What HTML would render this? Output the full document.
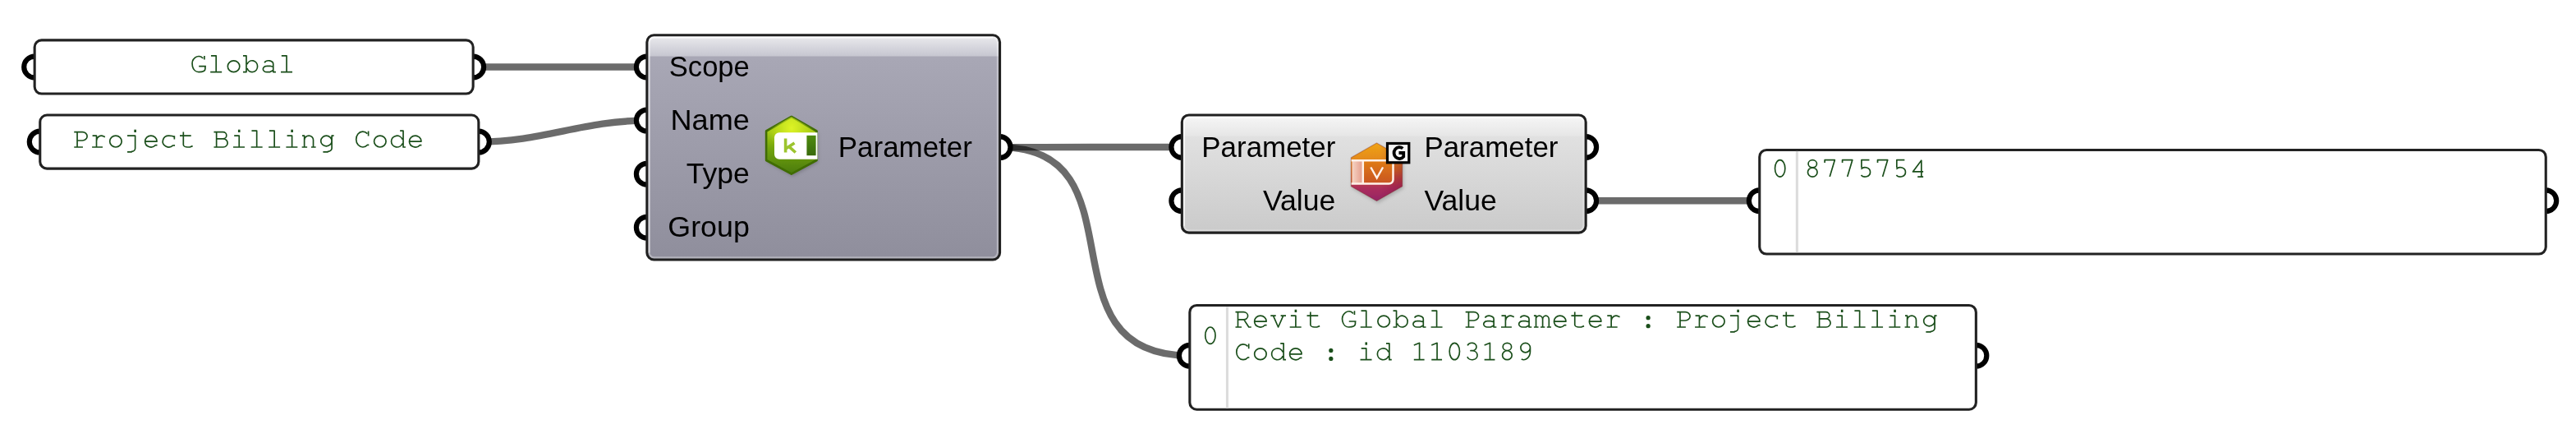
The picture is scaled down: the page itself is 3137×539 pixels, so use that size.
<!DOCTYPE html>
<html><head><meta charset="utf-8"><style>html,body{margin:0;padding:0;background:#fff;width:3137px;height:539px;overflow:hidden}svg{display:block;will-change:transform}</style></head>
<body><svg width="3137" height="539" viewBox="0 0 3137 539"><defs>
<linearGradient id="c1b" x1="0" y1="0" x2="0" y2="1"><stop offset="0" stop-color="#abaab8"/><stop offset="1" stop-color="#8f8e9c"/></linearGradient>
<linearGradient id="c1t" x1="0" y1="0" x2="0" y2="1"><stop offset="0.1" stop-color="#f6f6f8"/><stop offset="0.2" stop-color="#e6e6ea"/><stop offset="1" stop-color="#c6c6d0"/></linearGradient>
<linearGradient id="c2b" x1="0" y1="0" x2="0" y2="1"><stop offset="0" stop-color="#e6e6e6"/><stop offset="1" stop-color="#cacaca"/></linearGradient>
<linearGradient id="c2t" x1="0" y1="0" x2="0" y2="1"><stop offset="0.1" stop-color="#fcfcfc"/><stop offset="0.2" stop-color="#f4f4f4"/><stop offset="1" stop-color="#e6e6e6"/></linearGradient>
<linearGradient id="hexg" x1="0" y1="0" x2="0" y2="1"><stop offset="0" stop-color="#d4ec20"/><stop offset="0.5" stop-color="#8cbc10"/><stop offset="1" stop-color="#5c8c10"/></linearGradient>
<linearGradient id="hexo" x1="0" y1="0" x2="0" y2="1"><stop offset="0" stop-color="#f0a818"/><stop offset="0.45" stop-color="#d86828"/><stop offset="1" stop-color="#a02860"/></linearGradient>
</defs>
<path d="M576.2,81.5 C682.0,81.5 682.0,81.5 787.8,81.5" fill="none" stroke="rgba(0,0,0,0.58)" stroke-width="8.4"/>
<path d="M582.9,172.6 C660.9,172.6 709.8,146.6 787.8,146.6" fill="none" stroke="rgba(0,0,0,0.58)" stroke-width="8.4"/>
<path d="M1217.6,179.1 C1328.4499999999998,179.1 1328.4499999999998,179.0 1439.3,179.0" fill="none" stroke="rgba(0,0,0,0.58)" stroke-width="8.4"/>
<path d="M1217.6,179.1 C1397.6,179.1 1260.8,432.8 1448.8,432.8" fill="none" stroke="rgba(0,0,0,0.58)" stroke-width="8.4"/>
<path d="M1931.2,244.2 C2036.9499999999998,244.2 2036.9499999999998,244.2 2142.7,244.2" fill="none" stroke="rgba(0,0,0,0.58)" stroke-width="8.4"/>
<path d="M42.1,68.6 A12.9,12.9 0 0 0 42.1,94.4 Z" fill="#fff" stroke="none"/><path d="M42.1,68.6 A12.9,12.9 0 0 0 42.1,94.4" fill="none" stroke="#000" stroke-width="6.2"/>
<path d="M576.2,68.6 A12.9,12.9 0 0 1 576.2,94.4 Z" fill="#fff" stroke="none"/><path d="M576.2,68.6 A12.9,12.9 0 0 1 576.2,94.4" fill="none" stroke="#000" stroke-width="6.2"/>
<rect x="42.15" y="48.849999999999994" width="534.0" height="65.2" rx="8.45" fill="#fff" stroke="#222" stroke-width="3.1"/>
<path d="M48.7,159.7 A12.9,12.9 0 0 0 48.7,185.5 Z" fill="#fff" stroke="none"/><path d="M48.7,159.7 A12.9,12.9 0 0 0 48.7,185.5" fill="none" stroke="#000" stroke-width="6.2"/>
<path d="M582.9,159.7 A12.9,12.9 0 0 1 582.9,185.5 Z" fill="#fff" stroke="none"/><path d="M582.9,159.7 A12.9,12.9 0 0 1 582.9,185.5" fill="none" stroke="#000" stroke-width="6.2"/>
<rect x="48.75" y="140.05" width="534.0999999999999" height="65.1" rx="8.45" fill="#fff" stroke="#222" stroke-width="3.1"/>
<path d="M2142.7,231.29999999999998 A12.9,12.9 0 0 0 2142.7,257.09999999999997 Z" fill="#fff" stroke="none"/><path d="M2142.7,231.29999999999998 A12.9,12.9 0 0 0 2142.7,257.09999999999997" fill="none" stroke="#000" stroke-width="6.2"/>
<path d="M3100.3,231.29999999999998 A12.9,12.9 0 0 1 3100.3,257.09999999999997 Z" fill="#fff" stroke="none"/><path d="M3100.3,231.29999999999998 A12.9,12.9 0 0 1 3100.3,257.09999999999997" fill="none" stroke="#000" stroke-width="6.2"/>
<rect x="2142.75" y="182.45000000000002" width="957.5000000000003" height="126.60000000000002" rx="8.45" fill="#fff" stroke="#222" stroke-width="3.1"/>
<path d="M1448.8,419.90000000000003 A12.9,12.9 0 0 0 1448.8,445.7 Z" fill="#fff" stroke="none"/><path d="M1448.8,419.90000000000003 A12.9,12.9 0 0 0 1448.8,445.7" fill="none" stroke="#000" stroke-width="6.2"/>
<path d="M2406.4,419.90000000000003 A12.9,12.9 0 0 1 2406.4,445.7 Z" fill="#fff" stroke="none"/><path d="M2406.4,419.90000000000003 A12.9,12.9 0 0 1 2406.4,445.7" fill="none" stroke="#000" stroke-width="6.2"/>
<rect x="1448.85" y="371.45" width="957.5000000000001" height="126.80000000000004" rx="8.45" fill="#fff" stroke="#222" stroke-width="3.1"/>
<path d="M787.8,68.6 A12.9,12.9 0 0 0 787.8,94.4 Z" fill="#fff" stroke="none"/><path d="M787.8,68.6 A12.9,12.9 0 0 0 787.8,94.4" fill="none" stroke="#000" stroke-width="6.2"/>
<path d="M787.8,133.7 A12.9,12.9 0 0 0 787.8,159.5 Z" fill="#fff" stroke="none"/><path d="M787.8,133.7 A12.9,12.9 0 0 0 787.8,159.5" fill="none" stroke="#000" stroke-width="6.2"/>
<path d="M787.8,198.79999999999998 A12.9,12.9 0 0 0 787.8,224.6 Z" fill="#fff" stroke="none"/><path d="M787.8,198.79999999999998 A12.9,12.9 0 0 0 787.8,224.6" fill="none" stroke="#000" stroke-width="6.2"/>
<path d="M787.8,263.90000000000003 A12.9,12.9 0 0 0 787.8,289.7 Z" fill="#fff" stroke="none"/><path d="M787.8,263.90000000000003 A12.9,12.9 0 0 0 787.8,289.7" fill="none" stroke="#000" stroke-width="6.2"/>
<path d="M1217.6,166.2 A12.9,12.9 0 0 1 1217.6,192.0 Z" fill="#fff" stroke="none"/><path d="M1217.6,166.2 A12.9,12.9 0 0 1 1217.6,192.0" fill="none" stroke="#000" stroke-width="6.2"/>
<clipPath id="clip786"><rect x="787.8" y="42.7" width="429.79999999999995" height="273.3" rx="8.5"/></clipPath><g clip-path="url(#clip786)"><rect x="786.3" y="41.2" width="432.79999999999995" height="276.3" fill="url(#c1b)"/><rect x="786.3" y="41.2" width="432.79999999999995" height="27.3" fill="url(#c1t)"/><rect x="790.3" y="45.2" width="424.79999999999995" height="268.3" rx="6.5" fill="none" stroke="rgba(255,255,255,0.32)" stroke-width="2.6"/><path d="M790.3,307.5 V51.7 A6.5,6.5 0 0 1 796.8,45.2" fill="none" stroke="rgba(255,255,255,0.55)" stroke-width="2.4"/><path d="M796.3,45.5 H1209.1" fill="none" stroke="rgba(255,255,255,0.75)" stroke-width="2"/></g><rect x="787.8499999999999" y="42.75" width="429.69999999999993" height="273.2" rx="8.45" fill="none" stroke="#202020" stroke-width="3.1"/>
<path d="M1439.3,166.1 A12.9,12.9 0 0 0 1439.3,191.9 Z" fill="#fff" stroke="none"/><path d="M1439.3,166.1 A12.9,12.9 0 0 0 1439.3,191.9" fill="none" stroke="#000" stroke-width="6.2"/>
<path d="M1931.2,166.1 A12.9,12.9 0 0 1 1931.2,191.9 Z" fill="#fff" stroke="none"/><path d="M1931.2,166.1 A12.9,12.9 0 0 1 1931.2,191.9" fill="none" stroke="#000" stroke-width="6.2"/>
<path d="M1439.3,231.29999999999998 A12.9,12.9 0 0 0 1439.3,257.09999999999997 Z" fill="#fff" stroke="none"/><path d="M1439.3,231.29999999999998 A12.9,12.9 0 0 0 1439.3,257.09999999999997" fill="none" stroke="#000" stroke-width="6.2"/>
<path d="M1931.2,231.29999999999998 A12.9,12.9 0 0 1 1931.2,257.09999999999997 Z" fill="#fff" stroke="none"/><path d="M1931.2,231.29999999999998 A12.9,12.9 0 0 1 1931.2,257.09999999999997" fill="none" stroke="#000" stroke-width="6.2"/>
<clipPath id="clip1437"><rect x="1439.3" y="139.9" width="491.9000000000001" height="143.29999999999998" rx="8.5"/></clipPath><g clip-path="url(#clip1437)"><rect x="1437.8" y="138.4" width="494.9000000000001" height="146.29999999999998" fill="url(#c2b)"/><rect x="1437.8" y="138.4" width="494.9000000000001" height="27.3" fill="url(#c2t)"/><rect x="1441.8" y="142.4" width="486.9000000000001" height="138.29999999999998" rx="6.5" fill="none" stroke="rgba(255,255,255,0.32)" stroke-width="2.6"/><path d="M1441.8,274.7 V148.9 A6.5,6.5 0 0 1 1448.3,142.4" fill="none" stroke="rgba(255,255,255,0.55)" stroke-width="2.4"/><path d="M1447.8,142.70000000000002 H1922.7" fill="none" stroke="rgba(255,255,255,0.75)" stroke-width="2"/></g><rect x="1439.35" y="139.95000000000002" width="491.80000000000007" height="143.2" rx="8.45" fill="none" stroke="#202020" stroke-width="3.1"/>
<text x="912.8" y="92.7" style="font-family:'Liberation Sans',sans-serif;font-size:35px;fill:#000" text-anchor="end"  textLength="98.0" lengthAdjust="spacingAndGlyphs">Scope</text>
<text x="912.8" y="157.79999999999998" style="font-family:'Liberation Sans',sans-serif;font-size:35px;fill:#000" text-anchor="end"  textLength="96.3" lengthAdjust="spacingAndGlyphs">Name</text>
<text x="912.8" y="222.89999999999998" style="font-family:'Liberation Sans',sans-serif;font-size:35px;fill:#000" text-anchor="end"  textLength="77.0" lengthAdjust="spacingAndGlyphs">Type</text>
<text x="912.8" y="288.0" style="font-family:'Liberation Sans',sans-serif;font-size:35px;fill:#000" text-anchor="end"  textLength="99.5" lengthAdjust="spacingAndGlyphs">Group</text>
<text x="1020.8" y="190.79999999999998" style="font-family:'Liberation Sans',sans-serif;font-size:35px;fill:#000" text-anchor="start"  textLength="163.1" lengthAdjust="spacingAndGlyphs">Parameter</text>
<text x="1626.4" y="190.5" style="font-family:'Liberation Sans',sans-serif;font-size:35px;fill:#000" text-anchor="end"  textLength="163.1" lengthAdjust="spacingAndGlyphs">Parameter</text>
<text x="1626.4" y="255.79999999999998" style="font-family:'Liberation Sans',sans-serif;font-size:35px;fill:#000" text-anchor="end"  textLength="88.5" lengthAdjust="spacingAndGlyphs">Value</text>
<text x="1734.4" y="190.5" style="font-family:'Liberation Sans',sans-serif;font-size:35px;fill:#000" text-anchor="start"  textLength="163.1" lengthAdjust="spacingAndGlyphs">Parameter</text>
<text x="1734.4" y="255.79999999999998" style="font-family:'Liberation Sans',sans-serif;font-size:35px;fill:#000" text-anchor="start"  textLength="88.5" lengthAdjust="spacingAndGlyphs">Value</text>
<g fill="none" stroke="#1a4e1a" stroke-width="1.68" stroke-linejoin="round"><path transform="translate(231.00,88.50)" d="M17.90,-20.60 L17.90,-16.00 M16.29,-17.55 C13.67,-20.40 9.80,-20.81 6.81,-18.55 C3.82,-16.29 2.43,-11.91 3.41,-7.82 C4.38,-3.72 7.48,-0.90 11.00,-0.90 C15.4,-0.9 18.9,-1.9 18.9,-4.8 L18.9,-7.9 M11.20,-7.90 L19.90,-7.90"/><path transform="translate(252.46,88.50)" d="M4.50,-20.70 L10.73,-20.70 L10.73,-0.90 M3.70,-0.90 L17.70,-0.90"/><path transform="translate(273.92,88.50)" d="M17.90,-7.80 C17.90,-3.99 14.65,-0.90 10.65,-0.90 C6.65,-0.90 3.40,-3.99 3.40,-7.80 C3.40,-11.61 6.65,-14.70 10.65,-14.70 C14.65,-14.70 17.90,-11.61 17.90,-7.80"/><path transform="translate(295.38,88.50)" d="M0.60,-20.70 L4.60,-20.70 L4.60,-0.90 L0.60,-0.90 M5.59,-10.16 C6.67,-13.31 9.72,-15.18 12.83,-14.60 C15.93,-14.01 18.20,-11.15 18.20,-7.80 C18.20,-4.45 15.94,-1.59 12.83,-1.00 C9.72,-0.42 6.67,-2.29 5.59,-5.44"/><path transform="translate(316.84,88.50)" d="M5.22,-12.27 C6.33,-14.06 8.95,-15.03 11.51,-14.60 C14.08,-14.17 15.90,-12.47 15.90,-10.50 M15.90,-10.50 L15.90,-0.90 L19.10,-0.90 M15.90,-7.30 L12.00,-8.20 L8.00,-8.20 L8.10,-8.20 C5.56,-8.20 3.50,-6.57 3.50,-4.55 C3.50,-2.53 5.56,-0.90 8.10,-0.90 L8.10,-0.90 L12.00,-0.90 L15.90,-3.00"/><path transform="translate(338.30,88.50)" d="M4.50,-20.70 L10.73,-20.70 L10.73,-0.90 M3.70,-0.90 L17.70,-0.90"/></g>
<g fill="none" stroke="#1a4e1a" stroke-width="1.68" stroke-linejoin="round"><path transform="translate(87.35,179.90)" d="M2.90,-19.20 L13.00,-19.20 L13.00,-19.20 C16.20,-19.20 18.80,-16.89 18.80,-14.05 C18.80,-11.21 16.20,-8.90 13.00,-8.90 L13.00,-8.90 L6.70,-8.90 M6.70,-19.20 L6.70,-0.90 M2.90,-0.90 L13.60,-0.90"/><path transform="translate(108.81,179.90)" d="M3.80,-14.70 L8.70,-14.70 L8.70,-0.90 M3.30,-0.90 L16.20,-0.90 M8.70,-8.40 C8.70,-10.65 9.82,-12.73 11.65,-13.86 C13.48,-14.98 15.72,-14.98 17.55,-13.86 L17.60,-13.85 L19.10,-13.30"/><path transform="translate(130.27,179.90)" d="M17.90,-7.80 C17.90,-3.99 14.65,-0.90 10.65,-0.90 C6.65,-0.90 3.40,-3.99 3.40,-7.80 C3.40,-11.61 6.65,-14.70 10.65,-14.70 C14.65,-14.70 17.90,-11.61 17.90,-7.80"/><path transform="translate(151.73,179.90)" d="M3.30,-14.70 L12.90,-14.70 L12.90,0.50 L12.90,0.50 C12.90,2.65 10.97,4.40 8.60,4.40 L8.60,4.90 L3.30,4.90"/><path transform="translate(151.73,179.90)" d="M12.90,-22.20 V-18.90" stroke-width="2.6"/><path transform="translate(173.19,179.90)" d="M3.40,-7.80 L17.90,-7.80 L17.90,-7.80 C17.90,-11.61 14.65,-14.70 10.65,-14.70 C6.65,-14.70 3.40,-11.61 3.40,-7.80 L3.40,-7.80 C3.40,-4.90 5.31,-2.31 8.17,-1.32 C11.03,-0.32 14.24,-1.14 16.20,-3.36 L18.3,-3.3"/><path transform="translate(194.65,179.90)" d="M17.70,-14.60 L17.70,-10.40 M17.7,-13.2 C16.3,-14.3 13.6,-14.7 10.9,-14.7 L10.90,-14.70 C7.60,-14.70 4.70,-12.60 3.85,-9.59 C2.99,-6.57 4.39,-3.39 7.25,-1.82 C10.11,-0.26 13.73,-0.71 16.06,-2.92 L18.4,-3.0"/><path transform="translate(216.11,179.90)" d="M7.20,-19.30 L7.20,-4.00 L7.20,-4.00 C7.20,-2.29 9.44,-0.90 12.20,-0.90 L12.20,-0.90 L15.00,-0.90 L18.50,-2.30 M2.90,-14.70 L16.60,-14.70"/><path transform="translate(259.03,179.90)" d="M1.40,-19.20 L12.50,-19.20 L12.50,-19.20 C14.87,-19.20 16.80,-17.39 16.80,-15.15 C16.80,-12.91 14.87,-11.10 12.50,-11.10 L12.50,-11.10 L4.60,-11.10 M12.90,-11.10 L12.90,-11.10 C15.77,-11.10 18.10,-8.82 18.10,-6.00 C18.10,-3.18 15.77,-0.90 12.90,-0.90 L12.90,-0.90 L1.40,-0.90 M4.60,-19.20 L4.60,-0.90"/><path transform="translate(280.49,179.90)" d="M4.70,-14.70 L10.73,-14.70 L10.73,-0.90 M3.50,-0.90 L17.50,-0.90"/><path transform="translate(280.49,179.90)" d="M10.73,-22.20 V-18.90" stroke-width="2.6"/><path transform="translate(301.95,179.90)" d="M4.50,-20.70 L10.73,-20.70 L10.73,-0.90 M3.70,-0.90 L17.70,-0.90"/><path transform="translate(323.41,179.90)" d="M4.50,-20.70 L10.73,-20.70 L10.73,-0.90 M3.70,-0.90 L17.70,-0.90"/><path transform="translate(344.87,179.90)" d="M4.70,-14.70 L10.73,-14.70 L10.73,-0.90 M3.50,-0.90 L17.50,-0.90"/><path transform="translate(344.87,179.90)" d="M10.73,-22.20 V-18.90" stroke-width="2.6"/><path transform="translate(366.33,179.90)" d="M1.70,-14.70 L4.30,-14.70 L4.30,-0.90 M4.40,-9.60 C4.40,-12.42 6.82,-14.70 9.80,-14.70 C12.78,-14.70 15.20,-12.42 15.20,-9.60 L15.20,-9.60 L15.20,-0.90 M1.30,-0.90 L7.80,-0.90 M12.60,-0.90 L18.30,-0.90"/><path transform="translate(387.79,179.90)" d="M16.30,-8.40 C16.30,-4.92 13.30,-2.10 9.60,-2.10 C5.90,-2.10 2.90,-4.92 2.90,-8.40 C2.90,-11.88 5.90,-14.70 9.60,-14.70 C13.30,-14.70 16.30,-11.88 16.30,-8.40 M18.80,-14.70 L16.30,-14.70 L16.30,0.60 L16.30,0.60 C16.30,2.70 14.15,4.40 11.50,4.40 L11.50,4.90 L5.60,4.90"/><path transform="translate(430.71,179.90)" d="M17.90,-20.40 L17.90,-14.30 M16.62,-17.26 C13.38,-20.79 8.30,-20.62 5.24,-16.87 C2.18,-13.13 2.27,-7.21 5.44,-3.59 C8.61,0.03 13.69,-0.01 16.83,-3.67 L18.6,-3.6"/><path transform="translate(452.17,179.90)" d="M17.90,-7.80 C17.90,-3.99 14.65,-0.90 10.65,-0.90 C6.65,-0.90 3.40,-3.99 3.40,-7.80 C3.40,-11.61 6.65,-14.70 10.65,-14.70 C14.65,-14.70 17.90,-11.61 17.90,-7.80"/><path transform="translate(473.63,179.90)" d="M13.50,-20.70 L17.40,-20.70 L17.40,-0.90 L20.30,-0.90 M16.48,-10.16 C15.32,-13.31 12.03,-15.18 8.68,-14.60 C5.34,-14.01 2.90,-11.15 2.90,-7.80 C2.90,-4.45 5.34,-1.59 8.68,-1.00 C12.03,-0.42 15.32,-2.29 16.48,-5.44"/><path transform="translate(495.09,179.90)" d="M3.40,-7.80 L17.90,-7.80 L17.90,-7.80 C17.90,-11.61 14.65,-14.70 10.65,-14.70 C6.65,-14.70 3.40,-11.61 3.40,-7.80 L3.40,-7.80 C3.40,-4.90 5.31,-2.31 8.17,-1.32 C11.03,-0.32 14.24,-1.14 16.20,-3.36 L18.3,-3.3"/></g>
<g fill="none" stroke="#1a4e1a" stroke-width="1.68" stroke-linejoin="round"><path transform="translate(2156.67,216.00)" d="M17.15,-11.10 C17.15,-5.47 14.40,-0.90 11.00,-0.90 C7.60,-0.90 4.85,-5.47 4.85,-11.10 C4.85,-16.73 7.60,-21.30 11.00,-21.30 C14.40,-21.30 17.15,-16.73 17.15,-11.10"/></g>
<g fill="none" stroke="#1a4e1a" stroke-width="1.68" stroke-linejoin="round"><path transform="translate(2196.57,216.00)" d="M15.90,-16.70 C15.90,-14.16 13.57,-12.10 10.70,-12.10 C7.83,-12.10 5.50,-14.16 5.50,-16.70 C5.50,-19.24 7.83,-21.30 10.70,-21.30 C13.57,-21.30 15.90,-19.24 15.90,-16.70 M16.50,-6.40 C16.50,-3.36 13.90,-0.90 10.70,-0.90 C7.50,-0.90 4.90,-3.36 4.90,-6.40 C4.90,-9.44 7.50,-11.90 10.70,-11.90 C13.90,-11.90 16.50,-9.44 16.50,-6.40"/><path transform="translate(2218.03,216.00)" d="M4.10,-18.00 L4.10,-21.30 L16.30,-21.30 L10.20,-0.90"/><path transform="translate(2239.49,216.00)" d="M4.10,-18.00 L4.10,-21.30 L16.30,-21.30 L10.20,-0.90"/><path transform="translate(2260.95,216.00)" d="M15.50,-21.30 L5.95,-21.30 L5.95,-12.00 M5.47,-10.26 C7.18,-12.10 9.97,-12.78 12.45,-11.96 C14.94,-11.14 16.60,-9.00 16.60,-6.60 C16.60,-4.20 14.94,-2.06 12.45,-1.24 C9.97,-0.42 7.18,-1.10 5.47,-2.94"/><path transform="translate(2282.41,216.00)" d="M4.10,-18.00 L4.10,-21.30 L16.30,-21.30 L10.20,-0.90"/><path transform="translate(2303.87,216.00)" d="M15.50,-21.30 L5.95,-21.30 L5.95,-12.00 M5.47,-10.26 C7.18,-12.10 9.97,-12.78 12.45,-11.96 C14.94,-11.14 16.60,-9.00 16.60,-6.60 C16.60,-4.20 14.94,-2.06 12.45,-1.24 C9.97,-0.42 7.18,-1.10 5.47,-2.94"/><path transform="translate(2325.33,216.00)" d="M14.80,-21.30 L4.10,-7.10 L16.80,-7.10 M14.50,-21.30 L14.50,-0.90 M9.90,-0.90 L16.80,-0.90"/></g>
<rect x="2186.8" y="183.9" width="3.1" height="123.20000000000002" fill="#dcdcdc"/>
<rect x="1492.9" y="373.4" width="3.1" height="123.40000000000003" fill="#dcdcdc"/>
<g fill="none" stroke="#1a4e1a" stroke-width="1.68" stroke-linejoin="round"><path transform="translate(1462.90,419.30)" d="M17.15,-11.10 C17.15,-5.47 14.40,-0.90 11.00,-0.90 C7.60,-0.90 4.85,-5.47 4.85,-11.10 C4.85,-16.73 7.60,-21.30 11.00,-21.30 C14.40,-21.30 17.15,-16.73 17.15,-11.10"/></g>
<g fill="none" stroke="#1a4e1a" stroke-width="1.68" stroke-linejoin="round"><path transform="translate(1502.80,398.90)" d="M1.70,-19.20 L11.50,-19.20 L11.50,-19.20 C14.43,-19.20 16.80,-17.14 16.80,-14.60 C16.80,-12.06 14.43,-10.00 11.50,-10.00 L11.50,-10.00 L4.70,-10.00 M4.70,-19.20 L4.70,-0.90 M1.70,-0.90 L9.20,-0.90 M12.00,-10.00 L18.00,-0.90 L21.00,-0.90"/><path transform="translate(1524.26,398.90)" d="M3.40,-7.80 L17.90,-7.80 L17.90,-7.80 C17.90,-11.61 14.65,-14.70 10.65,-14.70 C6.65,-14.70 3.40,-11.61 3.40,-7.80 L3.40,-7.80 C3.40,-4.90 5.31,-2.31 8.17,-1.32 C11.03,-0.32 14.24,-1.14 16.20,-3.36 L18.3,-3.3"/><path transform="translate(1545.72,398.90)" d="M1.60,-14.70 L8.00,-14.70 M13.90,-14.70 L20.30,-14.70 M4.80,-14.70 L10.90,-0.90 L17.00,-14.70"/><path transform="translate(1567.18,398.90)" d="M4.70,-14.70 L10.73,-14.70 L10.73,-0.90 M3.50,-0.90 L17.50,-0.90"/><path transform="translate(1567.18,398.90)" d="M10.73,-22.20 V-18.90" stroke-width="2.6"/><path transform="translate(1588.64,398.90)" d="M7.20,-19.30 L7.20,-4.00 L7.20,-4.00 C7.20,-2.29 9.44,-0.90 12.20,-0.90 L12.20,-0.90 L15.00,-0.90 L18.50,-2.30 M2.90,-14.70 L16.60,-14.70"/><path transform="translate(1631.56,398.90)" d="M17.90,-20.60 L17.90,-16.00 M16.29,-17.55 C13.67,-20.40 9.80,-20.81 6.81,-18.55 C3.82,-16.29 2.43,-11.91 3.41,-7.82 C4.38,-3.72 7.48,-0.90 11.00,-0.90 C15.4,-0.9 18.9,-1.9 18.9,-4.8 L18.9,-7.9 M11.20,-7.90 L19.90,-7.90"/><path transform="translate(1653.02,398.90)" d="M4.50,-20.70 L10.73,-20.70 L10.73,-0.90 M3.70,-0.90 L17.70,-0.90"/><path transform="translate(1674.48,398.90)" d="M17.90,-7.80 C17.90,-3.99 14.65,-0.90 10.65,-0.90 C6.65,-0.90 3.40,-3.99 3.40,-7.80 C3.40,-11.61 6.65,-14.70 10.65,-14.70 C14.65,-14.70 17.90,-11.61 17.90,-7.80"/><path transform="translate(1695.94,398.90)" d="M0.60,-20.70 L4.60,-20.70 L4.60,-0.90 L0.60,-0.90 M5.59,-10.16 C6.67,-13.31 9.72,-15.18 12.83,-14.60 C15.93,-14.01 18.20,-11.15 18.20,-7.80 C18.20,-4.45 15.94,-1.59 12.83,-1.00 C9.72,-0.42 6.67,-2.29 5.59,-5.44"/><path transform="translate(1717.40,398.90)" d="M5.22,-12.27 C6.33,-14.06 8.95,-15.03 11.51,-14.60 C14.08,-14.17 15.90,-12.47 15.90,-10.50 M15.90,-10.50 L15.90,-0.90 L19.10,-0.90 M15.90,-7.30 L12.00,-8.20 L8.00,-8.20 L8.10,-8.20 C5.56,-8.20 3.50,-6.57 3.50,-4.55 C3.50,-2.53 5.56,-0.90 8.10,-0.90 L8.10,-0.90 L12.00,-0.90 L15.90,-3.00"/><path transform="translate(1738.86,398.90)" d="M4.50,-20.70 L10.73,-20.70 L10.73,-0.90 M3.70,-0.90 L17.70,-0.90"/><path transform="translate(1781.78,398.90)" d="M2.90,-19.20 L13.00,-19.20 L13.00,-19.20 C16.20,-19.20 18.80,-16.89 18.80,-14.05 C18.80,-11.21 16.20,-8.90 13.00,-8.90 L13.00,-8.90 L6.70,-8.90 M6.70,-19.20 L6.70,-0.90 M2.90,-0.90 L13.60,-0.90"/><path transform="translate(1803.24,398.90)" d="M5.22,-12.27 C6.33,-14.06 8.95,-15.03 11.51,-14.60 C14.08,-14.17 15.90,-12.47 15.90,-10.50 M15.90,-10.50 L15.90,-0.90 L19.10,-0.90 M15.90,-7.30 L12.00,-8.20 L8.00,-8.20 L8.10,-8.20 C5.56,-8.20 3.50,-6.57 3.50,-4.55 C3.50,-2.53 5.56,-0.90 8.10,-0.90 L8.10,-0.90 L12.00,-0.90 L15.90,-3.00"/><path transform="translate(1824.70,398.90)" d="M3.80,-14.70 L8.70,-14.70 L8.70,-0.90 M3.30,-0.90 L16.20,-0.90 M8.70,-8.40 C8.70,-10.65 9.82,-12.73 11.65,-13.86 C13.48,-14.98 15.72,-14.98 17.55,-13.86 L17.60,-13.85 L19.10,-13.30"/><path transform="translate(1846.16,398.90)" d="M5.22,-12.27 C6.33,-14.06 8.95,-15.03 11.51,-14.60 C14.08,-14.17 15.90,-12.47 15.90,-10.50 M15.90,-10.50 L15.90,-0.90 L19.10,-0.90 M15.90,-7.30 L12.00,-8.20 L8.00,-8.20 L8.10,-8.20 C5.56,-8.20 3.50,-6.57 3.50,-4.55 C3.50,-2.53 5.56,-0.90 8.10,-0.90 L8.10,-0.90 L12.00,-0.90 L15.90,-3.00"/><path transform="translate(1867.62,398.90)" d="M0.30,-14.70 L2.90,-14.70 L2.90,-0.90 M2.80,-10.20 C2.80,-12.69 4.64,-14.70 6.90,-14.70 C9.16,-14.70 11.00,-12.69 11.00,-10.20 L11.00,-10.20 L11.00,-0.90 M11.00,-10.20 C11.00,-12.69 12.72,-14.70 14.85,-14.70 C16.98,-14.70 18.70,-12.69 18.70,-10.20 L18.70,-10.20 L18.70,-0.90 M0.30,-0.90 L5.90,-0.90 M8.40,-0.90 L13.70,-0.90 M16.20,-0.90 L21.40,-0.90"/><path transform="translate(1889.08,398.90)" d="M3.40,-7.80 L17.90,-7.80 L17.90,-7.80 C17.90,-11.61 14.65,-14.70 10.65,-14.70 C6.65,-14.70 3.40,-11.61 3.40,-7.80 L3.40,-7.80 C3.40,-4.90 5.31,-2.31 8.17,-1.32 C11.03,-0.32 14.24,-1.14 16.20,-3.36 L18.3,-3.3"/><path transform="translate(1910.54,398.90)" d="M7.20,-19.30 L7.20,-4.00 L7.20,-4.00 C7.20,-2.29 9.44,-0.90 12.20,-0.90 L12.20,-0.90 L15.00,-0.90 L18.50,-2.30 M2.90,-14.70 L16.60,-14.70"/><path transform="translate(1932.00,398.90)" d="M3.40,-7.80 L17.90,-7.80 L17.90,-7.80 C17.90,-11.61 14.65,-14.70 10.65,-14.70 C6.65,-14.70 3.40,-11.61 3.40,-7.80 L3.40,-7.80 C3.40,-4.90 5.31,-2.31 8.17,-1.32 C11.03,-0.32 14.24,-1.14 16.20,-3.36 L18.3,-3.3"/><path transform="translate(1953.46,398.90)" d="M3.80,-14.70 L8.70,-14.70 L8.70,-0.90 M3.30,-0.90 L16.20,-0.90 M8.70,-8.40 C8.70,-10.65 9.82,-12.73 11.65,-13.86 C13.48,-14.98 15.72,-14.98 17.55,-13.86 L17.60,-13.85 L19.10,-13.30"/><circle cx="10.73" cy="-12.20" r="2.6" transform="translate(1996.38,398.90)" fill="#1a4e1a" stroke="none"/><circle cx="10.73" cy="-2.20" r="2.6" transform="translate(1996.38,398.90)" fill="#1a4e1a" stroke="none"/><path transform="translate(2039.30,398.90)" d="M2.90,-19.20 L13.00,-19.20 L13.00,-19.20 C16.20,-19.20 18.80,-16.89 18.80,-14.05 C18.80,-11.21 16.20,-8.90 13.00,-8.90 L13.00,-8.90 L6.70,-8.90 M6.70,-19.20 L6.70,-0.90 M2.90,-0.90 L13.60,-0.90"/><path transform="translate(2060.76,398.90)" d="M3.80,-14.70 L8.70,-14.70 L8.70,-0.90 M3.30,-0.90 L16.20,-0.90 M8.70,-8.40 C8.70,-10.65 9.82,-12.73 11.65,-13.86 C13.48,-14.98 15.72,-14.98 17.55,-13.86 L17.60,-13.85 L19.10,-13.30"/><path transform="translate(2082.22,398.90)" d="M17.90,-7.80 C17.90,-3.99 14.65,-0.90 10.65,-0.90 C6.65,-0.90 3.40,-3.99 3.40,-7.80 C3.40,-11.61 6.65,-14.70 10.65,-14.70 C14.65,-14.70 17.90,-11.61 17.90,-7.80"/><path transform="translate(2103.68,398.90)" d="M3.30,-14.70 L12.90,-14.70 L12.90,0.50 L12.90,0.50 C12.90,2.65 10.97,4.40 8.60,4.40 L8.60,4.90 L3.30,4.90"/><path transform="translate(2103.68,398.90)" d="M12.90,-22.20 V-18.90" stroke-width="2.6"/><path transform="translate(2125.14,398.90)" d="M3.40,-7.80 L17.90,-7.80 L17.90,-7.80 C17.90,-11.61 14.65,-14.70 10.65,-14.70 C6.65,-14.70 3.40,-11.61 3.40,-7.80 L3.40,-7.80 C3.40,-4.90 5.31,-2.31 8.17,-1.32 C11.03,-0.32 14.24,-1.14 16.20,-3.36 L18.3,-3.3"/><path transform="translate(2146.60,398.90)" d="M17.70,-14.60 L17.70,-10.40 M17.7,-13.2 C16.3,-14.3 13.6,-14.7 10.9,-14.7 L10.90,-14.70 C7.60,-14.70 4.70,-12.60 3.85,-9.59 C2.99,-6.57 4.39,-3.39 7.25,-1.82 C10.11,-0.26 13.73,-0.71 16.06,-2.92 L18.4,-3.0"/><path transform="translate(2168.06,398.90)" d="M7.20,-19.30 L7.20,-4.00 L7.20,-4.00 C7.20,-2.29 9.44,-0.90 12.20,-0.90 L12.20,-0.90 L15.00,-0.90 L18.50,-2.30 M2.90,-14.70 L16.60,-14.70"/><path transform="translate(2210.98,398.90)" d="M1.40,-19.20 L12.50,-19.20 L12.50,-19.20 C14.87,-19.20 16.80,-17.39 16.80,-15.15 C16.80,-12.91 14.87,-11.10 12.50,-11.10 L12.50,-11.10 L4.60,-11.10 M12.90,-11.10 L12.90,-11.10 C15.77,-11.10 18.10,-8.82 18.10,-6.00 C18.10,-3.18 15.77,-0.90 12.90,-0.90 L12.90,-0.90 L1.40,-0.90 M4.60,-19.20 L4.60,-0.90"/><path transform="translate(2232.44,398.90)" d="M4.70,-14.70 L10.73,-14.70 L10.73,-0.90 M3.50,-0.90 L17.50,-0.90"/><path transform="translate(2232.44,398.90)" d="M10.73,-22.20 V-18.90" stroke-width="2.6"/><path transform="translate(2253.90,398.90)" d="M4.50,-20.70 L10.73,-20.70 L10.73,-0.90 M3.70,-0.90 L17.70,-0.90"/><path transform="translate(2275.36,398.90)" d="M4.50,-20.70 L10.73,-20.70 L10.73,-0.90 M3.70,-0.90 L17.70,-0.90"/><path transform="translate(2296.82,398.90)" d="M4.70,-14.70 L10.73,-14.70 L10.73,-0.90 M3.50,-0.90 L17.50,-0.90"/><path transform="translate(2296.82,398.90)" d="M10.73,-22.20 V-18.90" stroke-width="2.6"/><path transform="translate(2318.28,398.90)" d="M1.70,-14.70 L4.30,-14.70 L4.30,-0.90 M4.40,-9.60 C4.40,-12.42 6.82,-14.70 9.80,-14.70 C12.78,-14.70 15.20,-12.42 15.20,-9.60 L15.20,-9.60 L15.20,-0.90 M1.30,-0.90 L7.80,-0.90 M12.60,-0.90 L18.30,-0.90"/><path transform="translate(2339.74,398.90)" d="M16.30,-8.40 C16.30,-4.92 13.30,-2.10 9.60,-2.10 C5.90,-2.10 2.90,-4.92 2.90,-8.40 C2.90,-11.88 5.90,-14.70 9.60,-14.70 C13.30,-14.70 16.30,-11.88 16.30,-8.40 M18.80,-14.70 L16.30,-14.70 L16.30,0.60 L16.30,0.60 C16.30,2.70 14.15,4.40 11.50,4.40 L11.50,4.90 L5.60,4.90"/></g>
<g fill="none" stroke="#1a4e1a" stroke-width="1.68" stroke-linejoin="round"><path transform="translate(1502.80,438.60)" d="M17.90,-20.40 L17.90,-14.30 M16.62,-17.26 C13.38,-20.79 8.30,-20.62 5.24,-16.87 C2.18,-13.13 2.27,-7.21 5.44,-3.59 C8.61,0.03 13.69,-0.01 16.83,-3.67 L18.6,-3.6"/><path transform="translate(1524.26,438.60)" d="M17.90,-7.80 C17.90,-3.99 14.65,-0.90 10.65,-0.90 C6.65,-0.90 3.40,-3.99 3.40,-7.80 C3.40,-11.61 6.65,-14.70 10.65,-14.70 C14.65,-14.70 17.90,-11.61 17.90,-7.80"/><path transform="translate(1545.72,438.60)" d="M13.50,-20.70 L17.40,-20.70 L17.40,-0.90 L20.30,-0.90 M16.48,-10.16 C15.32,-13.31 12.03,-15.18 8.68,-14.60 C5.34,-14.01 2.90,-11.15 2.90,-7.80 C2.90,-4.45 5.34,-1.59 8.68,-1.00 C12.03,-0.42 15.32,-2.29 16.48,-5.44"/><path transform="translate(1567.18,438.60)" d="M3.40,-7.80 L17.90,-7.80 L17.90,-7.80 C17.90,-11.61 14.65,-14.70 10.65,-14.70 C6.65,-14.70 3.40,-11.61 3.40,-7.80 L3.40,-7.80 C3.40,-4.90 5.31,-2.31 8.17,-1.32 C11.03,-0.32 14.24,-1.14 16.20,-3.36 L18.3,-3.3"/><circle cx="10.73" cy="-12.20" r="2.6" transform="translate(1610.10,438.60)" fill="#1a4e1a" stroke="none"/><circle cx="10.73" cy="-2.20" r="2.6" transform="translate(1610.10,438.60)" fill="#1a4e1a" stroke="none"/><path transform="translate(1653.02,438.60)" d="M4.70,-14.70 L10.73,-14.70 L10.73,-0.90 M3.50,-0.90 L17.50,-0.90"/><path transform="translate(1653.02,438.60)" d="M10.73,-22.20 V-18.90" stroke-width="2.6"/><path transform="translate(1674.48,438.60)" d="M13.50,-20.70 L17.40,-20.70 L17.40,-0.90 L20.30,-0.90 M16.48,-10.16 C15.32,-13.31 12.03,-15.18 8.68,-14.60 C5.34,-14.01 2.90,-11.15 2.90,-7.80 C2.90,-4.45 5.34,-1.59 8.68,-1.00 C12.03,-0.42 15.32,-2.29 16.48,-5.44"/><path transform="translate(1717.40,438.60)" d="M4.40,-18.60 L11.20,-21.30 L11.20,-0.90 M4.40,-0.90 L17.20,-0.90"/><path transform="translate(1738.86,438.60)" d="M4.40,-18.60 L11.20,-21.30 L11.20,-0.90 M4.40,-0.90 L17.20,-0.90"/><path transform="translate(1760.32,438.60)" d="M17.15,-11.10 C17.15,-5.47 14.40,-0.90 11.00,-0.90 C7.60,-0.90 4.85,-5.47 4.85,-11.10 C4.85,-16.73 7.60,-21.30 11.00,-21.30 C14.40,-21.30 17.15,-16.73 17.15,-11.10"/><path transform="translate(1781.78,438.60)" d="M5.34,-18.21 C6.31,-20.45 9.13,-21.72 11.89,-21.17 C14.66,-20.62 16.49,-18.42 16.16,-16.05 C15.83,-13.69 13.44,-11.90 10.60,-11.90 L9.20,-11.90 L11.00,-11.90 M11.00,-11.90 C14.20,-11.90 16.89,-9.81 17.26,-7.04 C17.63,-4.27 15.56,-1.69 12.45,-1.05 C9.34,-0.40 6.17,-1.90 5.08,-4.52"/><path transform="translate(1803.24,438.60)" d="M4.40,-18.60 L11.20,-21.30 L11.20,-0.90 M4.40,-0.90 L17.20,-0.90"/><path transform="translate(1824.70,438.60)" d="M15.90,-16.70 C15.90,-14.16 13.57,-12.10 10.70,-12.10 C7.83,-12.10 5.50,-14.16 5.50,-16.70 C5.50,-19.24 7.83,-21.30 10.70,-21.30 C13.57,-21.30 15.90,-19.24 15.90,-16.70 M16.50,-6.40 C16.50,-3.36 13.90,-0.90 10.70,-0.90 C7.50,-0.90 4.90,-3.36 4.90,-6.40 C4.90,-9.44 7.50,-11.90 10.70,-11.90 C13.90,-11.90 16.50,-9.44 16.50,-6.40"/><path transform="translate(1846.16,438.60)" d="M17.30,-15.50 C17.30,-12.30 14.70,-9.70 11.50,-9.70 C8.30,-9.70 5.70,-12.30 5.70,-15.50 C5.70,-18.70 8.30,-21.30 11.50,-21.30 C14.70,-21.30 17.30,-18.70 17.30,-15.50 M17.30,-15.50 L17.30,-11.00 L17.30,-11.00 C17.30,-7.70 16.03,-4.62 13.89,-2.73 C11.75,-0.84 9.02,-0.38 6.56,-1.51"/></g>
<linearGradient id="hexg2" x1="0" y1="0" x2="0" y2="1"><stop offset="0" stop-color="#b0d418"/><stop offset="0.28" stop-color="#a2c814"/><stop offset="0.55" stop-color="#72a40e"/><stop offset="1" stop-color="#4a7a08"/></linearGradient>
<radialGradient id="hexhl" cx="0.5" cy="0.2" r="0.45"><stop offset="0" stop-color="#e4f828" stop-opacity="0.9"/><stop offset="1" stop-color="#e4f828" stop-opacity="0"/></radialGradient>
<linearGradient id="kblk" x1="0" y1="0" x2="0" y2="1"><stop offset="0" stop-color="#4e8c10"/><stop offset="1" stop-color="#386a06"/></linearGradient>
<filter id="soft" x="-10%" y="-10%" width="120%" height="120%"><feGaussianBlur stdDeviation="0.6"/></filter>
<filter id="shd" x="-20%" y="-20%" width="140%" height="140%"><feGaussianBlur stdDeviation="2"/></filter>
<polygon points="963.8,142 994.5,159.5 994.5,195 963.8,211.7 933.1,195 933.1,159.5" transform="translate(1.5,2.5)" fill="rgba(0,0,0,0.22)" filter="url(#shd)"/>
<g filter="url(#soft)"><polygon points="963.8,142 994.5,159.5 994.5,195 963.8,211.7 933.1,195 933.1,159.5" fill="url(#hexg2)" stroke="#3f6c06" stroke-width="2.6" stroke-linejoin="round"/>
<polygon points="963.8,142 994.5,159.5 994.5,195 963.8,211.7 933.1,195 933.1,159.5" fill="url(#hexhl)"/>
<path d="M949,161.3 H995.5 V193.7 H949 A6,6 0 0 1 943,187.7 V167.3 A6,6 0 0 1 949,161.3 Z" fill="#fff"/>
<rect x="982.4" y="164.8" width="11.2" height="24.4" fill="url(#kblk)"/>
<path d="M956.6,168.4 V185.5 M967.5,174 L957.5,180.5 M960.8,178.3 L968.8,185.5" fill="none" stroke="#9cc42e" stroke-width="3.6"/></g>
<linearGradient id="hexo2" x1="0" y1="0" x2="0" y2="1"><stop offset="0" stop-color="#f0a418"/><stop offset="0.28" stop-color="#e48a1a"/><stop offset="0.45" stop-color="#d66c22"/><stop offset="0.62" stop-color="#c0443e"/><stop offset="0.78" stop-color="#ac2e5c"/><stop offset="1" stop-color="#942466"/></linearGradient>
<linearGradient id="hexoR" x1="0" y1="0" x2="1" y2="0"><stop offset="0.55" stop-color="#6a0030" stop-opacity="0"/><stop offset="1" stop-color="#6a0030" stop-opacity="0.28"/></linearGradient>
<linearGradient id="vin" x1="0" y1="0" x2="0" y2="1"><stop offset="0" stop-color="#e07c16"/><stop offset="1" stop-color="#c85422"/></linearGradient>
<linearGradient id="vstrip" x1="0" y1="0" x2="1" y2="0"><stop offset="0" stop-color="#f6d4c4"/><stop offset="1" stop-color="#e49c8a"/></linearGradient>
<polygon points="1676.5,174 1707.6,191.8 1707.6,226.8 1676.5,244.5 1645.4,226.8 1645.4,191.8" transform="translate(1.5,2.5)" fill="rgba(0,0,0,0.2)" filter="url(#shd)"/>
<g filter="url(#soft)"><polygon points="1676.5,174 1707.6,191.8 1707.6,226.8 1676.5,244.5 1645.4,226.8 1645.4,191.8" fill="url(#hexo2)" stroke="rgba(120,30,20,0.35)" stroke-width="1.2" stroke-linejoin="round"/>
<polygon points="1676.5,174 1707.6,191.8 1707.6,226.8 1676.5,244.5 1645.4,226.8 1645.4,191.8" fill="url(#hexoR)"/>
<path d="M1645.6,195.2 H1696.5 V218.5 A5,5 0 0 1 1691.5,223.5 H1645.6 Z" fill="url(#vin)"/>
<rect x="1646.5" y="196" width="13" height="27" fill="url(#vstrip)"/>
<path d="M1645.6,195.2 H1696.5 V218.5 A5,5 0 0 1 1691.5,223.5 H1645.6 M1659.8,195.2 V223.5" fill="none" stroke="#fff2ea" stroke-width="2.5"/>
<path d="M1669.3,203.5 L1676.7,216.5 L1684.1,203.5" fill="none" stroke="#fff2ea" stroke-width="2.4"/>
<rect x="1689.5" y="174.5" width="26.3" height="23.3" fill="#f6f6f6" stroke="#000" stroke-width="3.2"/>
<path d="M1708.3,180.6 A6.6,7 0 1 0 1709.2,190.6 V186 H1703.5" fill="none" stroke="#000" stroke-width="3.8"/></g></svg></body></html>
